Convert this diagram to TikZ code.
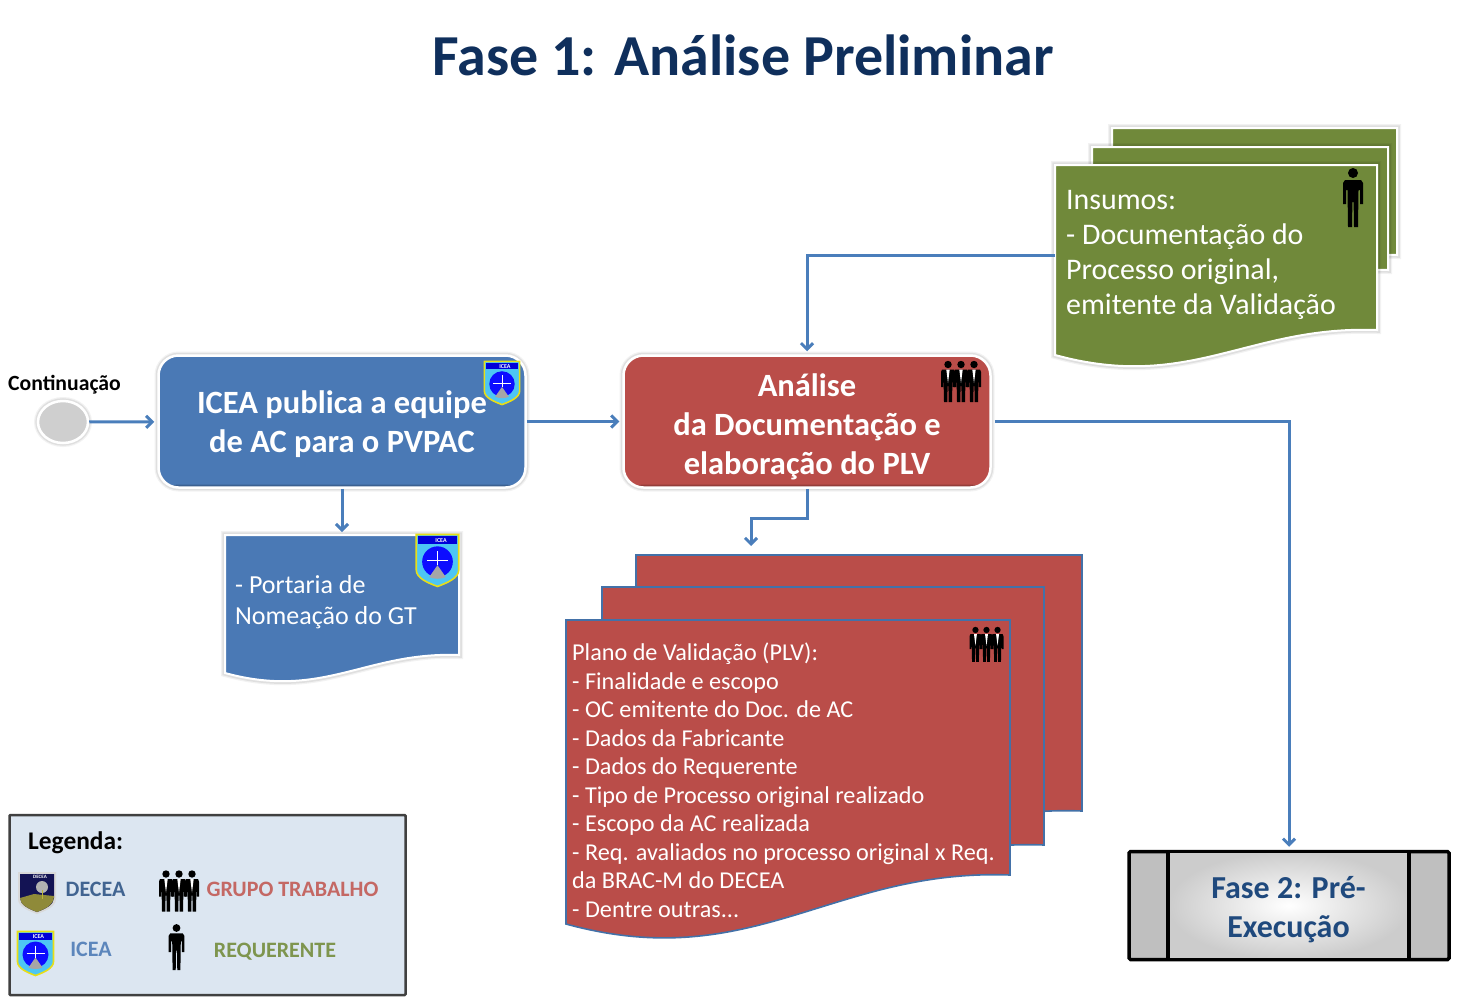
\documentclass[tikz,border=0pt]{standalone}
\usepackage{fontspec}
\setmainfont{Carlito}
\usetikzlibrary{arrows.meta,shapes.geometric}
\definecolor{navy}{HTML}{0F2F5C}
\definecolor{navyb}{HTML}{1F497D}
\definecolor{bluebox}{HTML}{4A79B5}
\definecolor{redbox}{HTML}{BA4D49}
\definecolor{greenbox}{HTML}{70893A}
\definecolor{linkblue}{HTML}{4A7EBB}
\definecolor{legendbg}{HTML}{DCE6F1}
\tikzset{
  softshadow/.style={preaction={draw=black,draw opacity=.05,line width=8pt},
    preaction={draw=black,draw opacity=.08,line width=5.5pt}},
  greensheet/.style={draw=white,line width=2pt,softshadow,fill=greenbox},
  bluesheet/.style={draw=white,line width=2pt,softshadow,fill=bluebox},
  redsheet/.style={draw=linkblue!90!black,line width=1.6pt,fill=redbox},
  task/.style={draw=white,line width=2.5pt,rounded corners=20pt,softshadow,inner sep=0pt,
    minimum width=367pt,minimum height=132pt,text=white,align=center,
    font=\bfseries\fontsize{32.5}{39}\selectfont,
    path picture={\fill[black,opacity=.2] ([yshift=3pt]path picture bounding box.south west) rectangle (path picture bounding box.south east);}},
  link/.style={-{Straight Barb[length=6pt,width=12pt]},linkblue,line width=3pt,shorten >=3pt},
  sheettext/.style={text=white,align=left,anchor=north west,inner sep=0pt},
  legendtext/.style={font=\bfseries\fontsize{22}{24}\selectfont,inner sep=0pt},
  person/.pic={
    \fill[black] (0,-25) circle (5);
    \fill[black] (-8,-18) -- (8,-18) -- (10,-15) -- (10,6) -- (7,6) -- (7,-8) -- (5.5,-8) -- (5,29) -- (1,29)
      -- (0.6,4) -- (-0.6,4) -- (-1,29) -- (-5,29) -- (-5.5,-8) -- (-7,-8) -- (-7,6) -- (-10,6) -- (-10,-15) -- cycle;
  },
  team/.pic={
    \foreach \dx in {-13,0,13}{
      \fill[black] (\dx,-16.5) circle (3.7);
      \fill[black] (\dx-6,-11.5) -- (\dx+6,-11.5) -- (\dx+7,-9) -- (\dx+7,6) -- (\dx+5,6) -- (\dx+4.5,-3) -- (\dx+4,21)
        -- (\dx+0.7,21) -- (\dx+0.4,5) -- (\dx-0.4,5) -- (\dx-0.7,21) -- (\dx-4,21) -- (\dx-4.5,-3) -- (\dx-5,6) -- (\dx-7,6) -- (\dx-7,-9) -- cycle;
      \fill[white] (\dx-1.7,-11.5) -- (\dx+1.7,-11.5) -- (\dx,2) -- cycle;
    }
  },
  icea/.pic={
    \draw[yellow!90!black,line width=1.6pt,fill=cyan!70!white] (-18,-22) -- (18,-22) -- (18,8)
      .. controls (18,15) and (8,19) .. (0,22) .. controls (-8,19) and (-18,15) .. (-18,8) -- cycle;
    \fill[blue!85!black] (-16.5,-20.5) rectangle (16.5,-14);
    \fill[blue!95!white] (0,1) circle (13);
    \fill[gray!70] (0,4) -- (7,14) .. controls (3,16) and (-3,16) .. (-7,14) -- cycle;
    \draw[white,line width=.4pt] (-9,0) -- (9,0) (0,-8) -- (0,4);
    \node[white,inner sep=0pt,font=\bfseries\fontsize{6}{6}\selectfont] (ban) at (3,-17) {ICEA};
  },
  decea/.pic={
    \fill[gray!30] (-19,-21) -- (19,-21) -- (19,6)
      .. controls (19,14) and (8,18) .. (0,21) .. controls (-8,18) and (-19,14) .. (-19,6) -- cycle;
    \fill[blue!30!black!85!gray] (-17,-19) -- (17,-19) -- (17,5)
      .. controls (17,12) and (8,16) .. (0,19) .. controls (-8,16) and (-17,12) .. (-17,5) -- cycle;
    \fill[olive!60!gray] (-17,5) -- (-3,1) -- (17,3) .. controls (17,12) and (8,16) .. (0,19) .. controls (-8,16) and (-17,12) .. (-17,5) -- cycle;
    \fill[gray!60] (5,-6) circle (6);
    \draw[yellow!70!black,line width=1pt] (5,-3) -- (5,6);
    \node[white,inner sep=0pt,font=\bfseries\fontsize{5}{5}\selectfont] (ban) at (3,-16) {DECEA};
  }
}
% name, style, left, top, right, y at right end, y at left end
\newcommand{\docsheet}[7]{
  \pgfmathsetmacro{\sheetw}{#5-#3}
  \pgfmathsetmacro{\ctrlax}{#3+.6*\sheetw}
  \pgfmathsetmacro{\ctrlay}{#6-.015*\sheetw}
  \pgfmathsetmacro{\ctrlbx}{#3+.42*\sheetw}
  \pgfmathsetmacro{\ctrlby}{#7+.115*\sheetw}
  \pgfmathsetmacro{\sheeth}{#7-#4}
  \draw[#2] (#3,#4) -- (#5,#4) -- (#5,#6)
    .. controls (\ctrlax,\ctrlay) and (\ctrlbx,\ctrlby) .. (#3,#7) -- cycle;
  \node[inner sep=0pt,outer sep=0pt,minimum width=\sheetw pt,minimum height=\sheeth pt,anchor=north west] (#1) at (#3,#4) {};
}
\begin{document}
\begin{tikzpicture}[x=1pt,y=-1pt]
  \useasboundingbox (0,0) rectangle (1462,1007);

  \node[text=navy,inner sep=0pt,font=\bfseries\fontsize{58}{60}\selectfont] (title) at (743,55) {Fase 1: Análise Preliminar};

  % start event
  \node[inner sep=0pt,font=\bfseries\fontsize{21.7}{24}\selectfont] (contlabel) at (64.5,385) {Continuação};
  \node[ellipse,draw=white,line width=2.5pt,fill=gray!38,minimum width=50pt,minimum height=42pt,inner sep=0pt,softshadow] (start) at (63,422) {};

  % tasks
  \node[task,fill=bluebox] (publica) at (342,421.5) {\rule{0pt}{29pt}ICEA publica a equipe\\de AC para o PVPAC};
  \node[task,fill=redbox] (analise) at (807,421.5) {\rule{0pt}{34pt}Análise\\da Documentação e\\elaboração do PLV};
  \pic[scale=.98] at (502,383) {icea};
  \pic at (961,381) {team};

  % documents
  \docsheet{insumosc}{greensheet}{1112}{128}{1397}{255}{290}
  \docsheet{insumosb}{greensheet}{1092}{147}{1388}{270}{305}
  \docsheet{insumos}{greensheet}{1055}{165}{1377}{330}{355}
  \node[sheettext,font=\fontsize{29.9}{35}\selectfont] (insumostxt) at (1066,190.5) {Insumos:\\- Documentação do\\Processo original,\\emitente da Validação};
  \pic at (1353,198) {person};

  \docsheet{portaria}{bluesheet}{225}{535}{459}{655}{673}
  \node[sheettext,font=\fontsize{26}{31}\selectfont] (portariatxt) at (235,575) {- Portaria de\\Nomeação do GT};
  \pic[scale=1.18] at (437.5,560.5) {icea};

  \docsheet{plvc}{redsheet}{636}{555}{1082}{811}{860}
  \docsheet{plvb}{redsheet}{602}{587}{1044}{845}{894}
  \docsheet{plv}{redsheet}{566}{620}{1010}{875}{924}
  \node[sheettext,font=\fontsize{24.2}{28.5}\selectfont] (plvtxt) at (572,643) {Plano de Validação (PLV):\\- Finalidade e escopo\\- OC emitente do Doc. de AC\\- Dados da Fabricante\\- Dados do Requerente\\- Tipo de Processo original realizado\\- Escopo da AC realizada\\- Req. avaliados no processo original x Req.\\da BRAC-M do DECEA\\- Dentre outras...};
  \pic[scale=.85] at (986.5,644) {team};

  % next phase
  \node[draw=black,line width=3.5pt,fill=gray!50,rounded corners=1.5pt,minimum width=320pt,minimum height=108pt,inner sep=0pt] (fase) at (1289,905.5) {};
  \node[draw=black,line width=3.5pt,inner color=white,outer color=gray!40,minimum width=241pt,minimum height=108pt,inner sep=0pt,
    text=navyb,align=center,font=\bfseries\fontsize{32}{39}\selectfont] (fasetxt) at (1288.5,905.5) {\rule{0pt}{30pt}Fase 2: Pré-\\Execução};

  % connectors
  \coordinate (plvin) at (751,549);
  \draw[link] (start) -- (publica);
  \draw[link] (publica) -- (analise);
  \draw[link] (publica.south) -- (portaria.north -| publica.south);
  \draw[link] (analise.south) -- ++(0,30) -| (plvin);
  \draw[link] ([yshift=5pt]insumos.west) -| (analise.north);
  \draw[link,shorten <=3pt] (analise.east) -| (fase.north);

  % legend
  \node[draw=black!75,line width=2.5pt,fill=legendbg,rounded corners=1pt,minimum width=396pt,minimum height=180pt,inner sep=0pt] (legend) at (207.5,905) {};
  \node[inner sep=0pt,anchor=west,font=\bfseries\fontsize{25.4}{26}\selectfont] (legendtitle) at (28,843) {Legenda:};
  \pic at (37,893) {decea};
  \node[legendtext,text=navyb!85!white] (ldecea) at (95.5,889) {DECEA};
  \pic at (179,890.5) {team};
  \node[legendtext,text=redbox!85!white] (lgrupo) at (292.5,889) {GRUPO TRABALHO};
  \pic at (35.5,953.5) {icea};
  \node[legendtext,text=bluebox!90!white] (licea) at (91,949) {ICEA};
  \pic[scale=.78] at (176.5,947.5) {person};
  \node[legendtext,text=greenbox!90!white] (lreq) at (275,952) {REQUERENTE};
\end{tikzpicture}
\end{document}
